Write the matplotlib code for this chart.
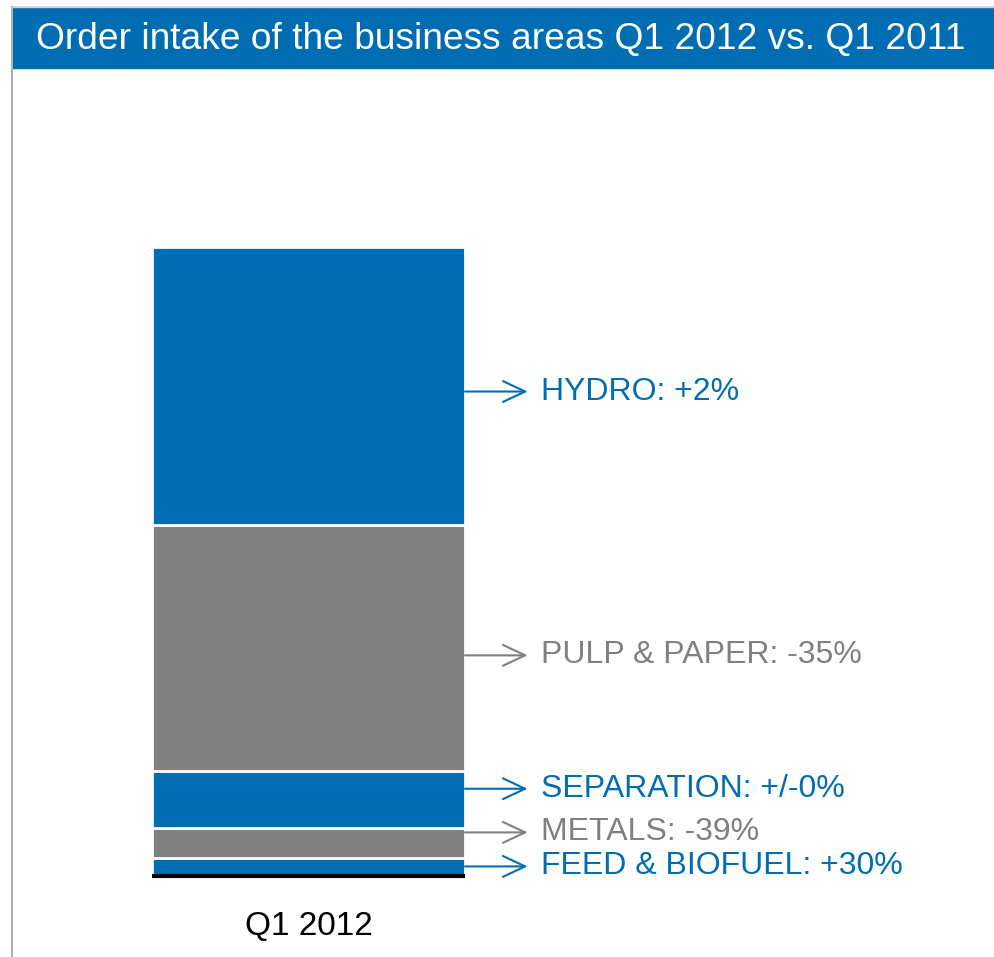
import matplotlib
matplotlib.use("Agg")
import matplotlib.pyplot as plt
from matplotlib.patches import Rectangle
from matplotlib.lines import Line2D

plt.rcParams['font.family'] = ['Liberation Sans', 'DejaVu Sans']

# Order intake Q1 2012 (MEUR), stacked bottom to top
segments = ["FEED & BIOFUEL", "METALS", "SEPARATION", "PULP & PAPER", "HYDRO"]
values = [42, 69, 133, 572, 646]
changes = ["+30%", "-39%", "+/-0%", "-35%", "+2%"]
category = "Q1 2012"
title = "Order intake of the business areas Q1 2012 vs. Q1 2011"

BLUE = "#006DB3"
GREY = "#808080"
colors = [BLUE, GREY, BLUE, GREY, BLUE]
# where each callout sits inside its segment (fraction of segment height)
anchor = [0.53, 0.86, 0.69, 0.47, 0.48]

W, H = 994, 957
fig = plt.figure(figsize=(W / 100, H / 100), dpi=100)

# title banner and frame lines
fig.patches.append(Rectangle((12 / W, 1 - 68 / H), 1 - 12 / W, 61 / H,
                             transform=fig.transFigure, color=BLUE, zorder=0))
fig.lines.append(Line2D([12 / W, 12 / W], [0, 1 - 7 / H], transform=fig.transFigure,
                        color="#B0B0B0", lw=1.5))
fig.lines.append(Line2D([12 / W, 1], [1 - 6.5 / H, 1 - 6.5 / H], transform=fig.transFigure,
                        color="#D0D0D0", lw=1))
fig.text(501 / W, 1 - 39 / H, title, color="white", fontsize=26.7,
         ha="center", va="center")

total = sum(values)
ax = fig.add_axes([152 / W, (H - 876) / H, (465 - 152) / W, (876 - 247) / H])
ax.set_xlim(-0.5, 0.5)
ax.set_ylim(0, total)
ax.axis("off")

bottom = 0
for name, v, c, ch, a in zip(segments, values, colors, changes, anchor):
    ax.bar(0, v, width=1.0, bottom=bottom, color=c, edgecolor="white",
           linewidth=2, zorder=2)
    y = bottom + a * v
    ax.annotate("", xy=(0.7, y), xytext=(0.5, y),
                arrowprops=dict(arrowstyle="->,head_length=1.6,head_width=0.75",
                                color=c, lw=1.5, shrinkA=0, shrinkB=0),
                annotation_clip=False)
    ax.text(0.743, y, f"{name}: {ch}", color=c, fontsize=23,
            ha="left", va="center", clip_on=False)
    bottom += v

# baseline
ax.plot([-0.5, 0.5], [0, 0], color="black", lw=3, solid_capstyle="butt",
        zorder=3, clip_on=False)

ax.text(0, -total * 0.0795, category, ha="center", va="center", fontsize=24,
        color="black")

fig.savefig("out.png", dpi=100)
